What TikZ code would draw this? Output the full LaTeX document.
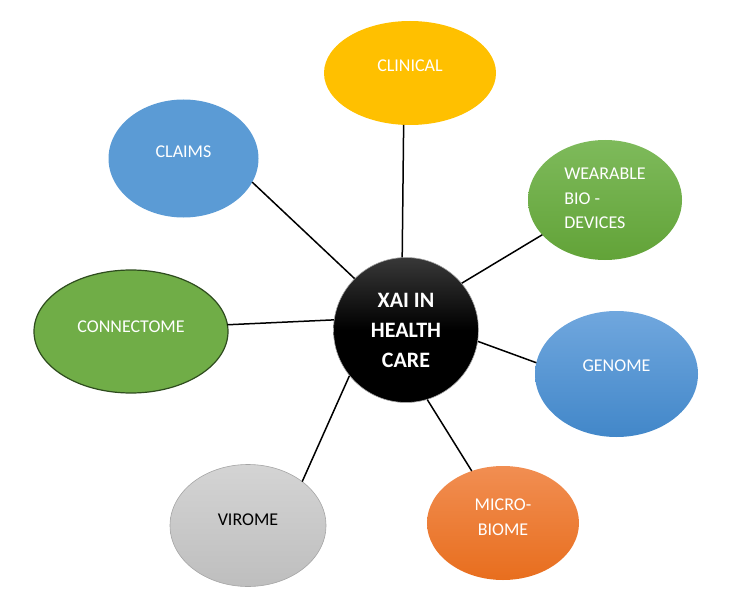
\documentclass[tikz,border=0pt]{standalone}
\usepackage{fontspec}
\setmainfont{Carlito}
\usetikzlibrary{shapes.geometric}
\definecolor{clinicalc}{RGB}{255,192,0}
\definecolor{claimsc}{RGB}{91,155,213}
\definecolor{weartop}{RGB}{126,186,91}
\definecolor{wearbot}{RGB}{98,163,56}
\definecolor{connc}{RGB}{112,173,71}
\definecolor{connb}{RGB}{46,76,30}
\definecolor{gentop}{RGB}{112,167,222}
\definecolor{genbot}{RGB}{66,135,201}
\definecolor{mictop}{RGB}{241,142,82}
\definecolor{micbot}{RGB}{232,110,30}
\definecolor{virtop}{RGB}{212,212,212}
\definecolor{virbot}{RGB}{190,190,190}
\definecolor{virb}{RGB}{165,165,165}
\tikzset{
  bub/.style={ellipse, inner sep=0pt, outer sep=0pt},
  lbl/.style={font=\fontsize{18}{24.5}\selectfont, text=white, inner sep=0pt},
  link/.style={line width=1.5pt, black},
  hubstyle/.style={circle, inner sep=0pt, minimum size=145pt, top color=black!78, bottom color=black, middle color=black, draw=black!35, line width=0.6pt, text=white, font=\fontsize{22}{30}\selectfont\bfseries, align=center}
}
\begin{document}
\begin{tikzpicture}[x=1pt,y=-1pt]
\useasboundingbox (0,0) rectangle (736,607);

\node[hubstyle] (hub) at (406,330) {XAI IN\\HEALTH\\CARE};

\node[bub, fill=clinicalc, minimum width=172pt, minimum height=104pt,
  label={[lbl, yshift=7pt]center:CLINICAL}] (clinical) at (410,73) {};
\node[bub, fill=claimsc, minimum width=150pt, minimum height=118pt,
  label={[lbl, yshift=7pt]center:CLAIMS}] (claims) at (183.5,158.5) {};
\node[bub, top color=weartop, bottom color=wearbot, minimum width=154pt, minimum height=120pt,
  label={[lbl, yshift=1.5pt, align=left]center:WEARABLE\\BIO -\\DEVICES}] (wearable) at (605,200) {};
\node[bub, fill=connc, draw=connb, line width=1.2pt, minimum width=194pt, minimum height=123pt,
  label={[lbl, yshift=5pt]center:CONNECTOME}] (connectome) at (131,331.5) {};
\node[bub, top color=gentop, bottom color=genbot, minimum width=163pt, minimum height=126pt,
  label={[lbl, yshift=8pt]center:GENOME}] (genome) at (616.5,374) {};
\node[bub, top color=mictop, bottom color=micbot, minimum width=152pt, minimum height=114pt,
  label={[lbl, yshift=6pt, align=center]center:MICRO-\\BIOME}] (micro) at (503,523) {};
\node[bub, top color=virtop, bottom color=virbot, draw=virb, line width=0.6pt, minimum width=156pt, minimum height=122pt,
  label={[lbl, text=black, yshift=6pt]center:VIROME}] (virome) at (248,525.5) {};

\draw[link] (hub.93) -- (clinical.263);
\draw[link] (hub.135.5) -- (claims.-19);
\draw[link] (hub.40) -- (wearable.209);
\draw[link] (hub.172) -- (connectome.4.7);
\draw[link] (hub.-9.5) -- (genome.172);
\draw[link] (hub.-73) -- (micro.121);
\draw[link] (hub.219.5) -- (virome.39.8);
\end{tikzpicture}
\end{document}
